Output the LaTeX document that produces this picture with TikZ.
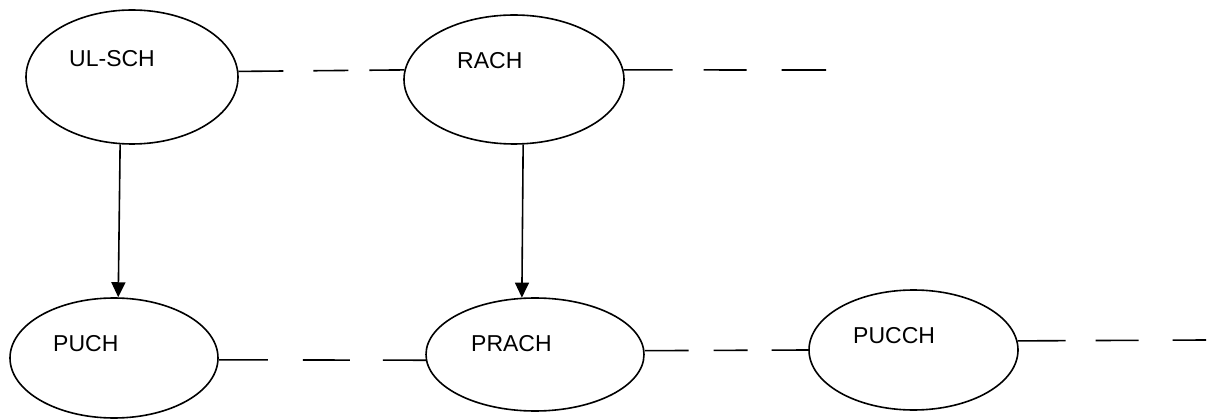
\documentclass[tikz,border=0pt]{standalone}
\usepackage{fontspec}
\setmainfont{Liberation Sans}
\usetikzlibrary{shapes.geometric,arrows.meta}
\tikzset{
  chan/.style={ellipse, draw=black, line width=1.6pt, inner sep=0pt},
  lbl/.style={anchor=base west, inner sep=0pt, font=\fontsize{23}{27}\selectfont},
  link/.style={draw=black, line width=1.6pt},
  flow/.style={draw=black, line width=1.6pt, -{Triangle[length=15pt,width=14pt]}}
}
\begin{document}
\begin{tikzpicture}[x=1pt,y=-1pt]
\useasboundingbox (0,0) rectangle (1209,419);
% channel ellipses
\node[chan, minimum width=212pt, minimum height=134pt] (ulsch) at (132,77) {};
\node[chan, minimum width=220pt, minimum height=129pt] (rach) at (514,79.5) {};
\node[chan, minimum width=208pt, minimum height=120pt] (puch) at (114,358) {};
\node[chan, minimum width=218pt, minimum height=113pt] (prach) at (535,354.5) {};
\node[chan, minimum width=209pt, minimum height=120pt] (pucch) at (913.5,350) {};
% labels
\node[lbl] (ulschT) at (69,67) {UL-SCH};
\node[lbl] (rachT) at (457,69) {RACH};
\node[lbl] (puchT) at (53,352) {PUCH};
\node[lbl] (prachT) at (471,351) {PRACH};
\node[lbl] (pucchT) at (853,343) {PUCCH};
% free ends
\coordinate (rachEnd) at (826,70);
\coordinate (pucchEnd) at (1206,340);
% broken connectors
\draw[link, dash pattern=on 45pt off 30pt on 35pt off 21pt on 40pt] (ulsch.3.8) -- (rach.175);
\draw[link, dash pattern=on 49pt off 31pt on 43pt off 35pt on 50pt] (rach.5) -- (rachEnd);
\draw[link, dash pattern=on 49pt off 35pt on 47pt off 33pt on 50pt] (puch.-1) -- (prach.-177.1);
\draw[link, dash pattern=on 44pt off 25pt on 34pt off 24pt on 45pt] (prach.2) -- (pucch.west);
\draw[link, dash pattern=on 48pt off 30pt on 43pt off 34pt on 40pt] (pucch.5.5) -- (pucchEnd);
% arrows
\draw[flow] (ulsch.-100.2) -- (puch.86.2);
\draw[flow] (rach.-82.9) -- (prach.103);
\end{tikzpicture}
\end{document}
